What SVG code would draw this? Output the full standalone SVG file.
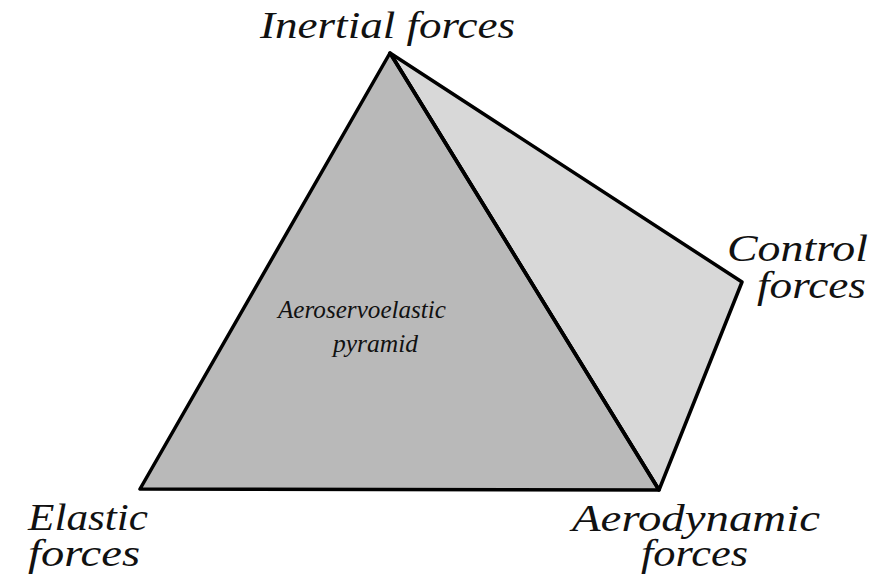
<svg xmlns="http://www.w3.org/2000/svg" width="894" height="576" viewBox="0 0 894 576">
<style>
.lbl{font-family:"Liberation Serif","DejaVu Serif",serif;font-style:italic;font-size:37px;fill:#111}
.in{font-family:"Liberation Serif","DejaVu Serif",serif;font-style:italic;font-size:25px;fill:#111}
.face{stroke:#000;stroke-width:3.5;stroke-linejoin:round}
</style>
<rect width="894" height="576" fill="#fff"/>
<g id="back-face"><polygon class="face" points="390,53 742,282 659,490" fill="#d8d8d8"/></g>
<g id="front-face"><polygon class="face" points="390,53 140,489 659,490" fill="#b9b9b9"/></g>
<g id="connectors"><line x1="390" y1="53" x2="659" y2="490" stroke="#000" stroke-width="3.5"/></g>
<g id="inertial"><text class="lbl" x="260" y="38" textLength="255" lengthAdjust="spacingAndGlyphs">Inertial forces</text></g>
<g id="control"><text class="lbl" x="727" y="261" textLength="141" lengthAdjust="spacingAndGlyphs">Control</text><text class="lbl" x="757" y="298" textLength="109" lengthAdjust="spacingAndGlyphs">forces</text></g>
<g id="elastic"><text class="lbl" x="28" y="530" textLength="120" lengthAdjust="spacingAndGlyphs">Elastic</text><text class="lbl" x="28" y="566" textLength="112" lengthAdjust="spacingAndGlyphs">forces</text></g>
<g id="aerodynamic"><text class="lbl" x="572" y="531" textLength="248" lengthAdjust="spacingAndGlyphs">Aerodynamic</text><text class="lbl" x="641" y="566" textLength="107" lengthAdjust="spacingAndGlyphs">forces</text></g>
<g id="center"><text class="in" x="278" y="318" textLength="168" lengthAdjust="spacingAndGlyphs">Aeroservoelastic</text><text class="in" x="333" y="352" textLength="85" lengthAdjust="spacingAndGlyphs">pyramid</text></g>
</svg>
